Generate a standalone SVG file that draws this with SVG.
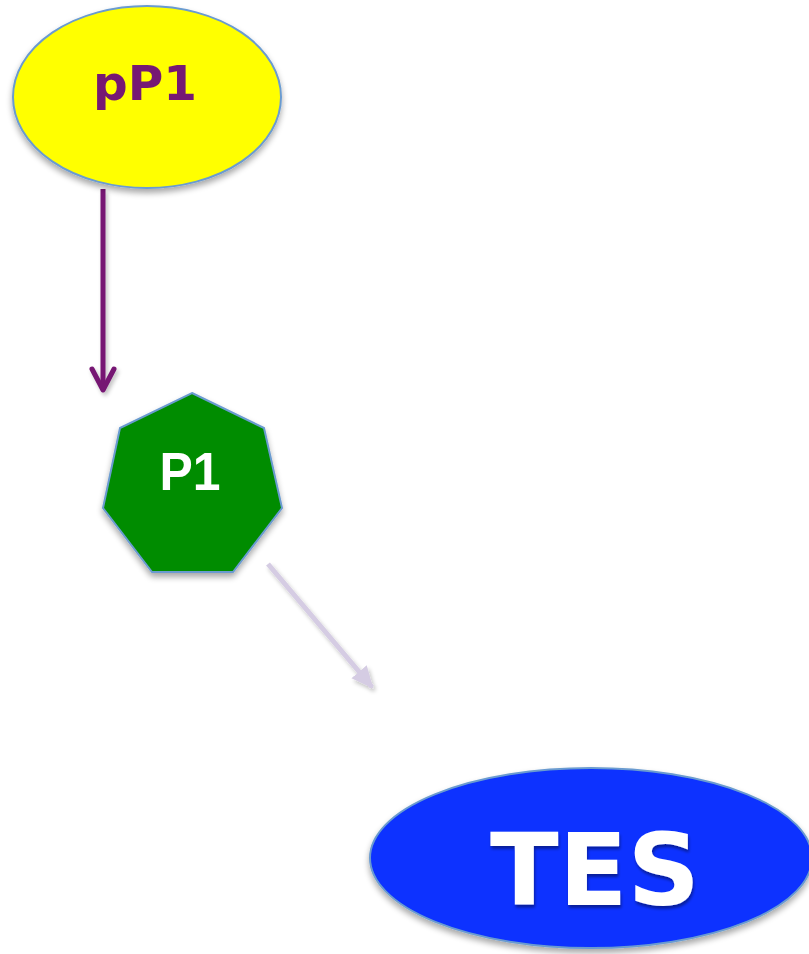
<svg xmlns="http://www.w3.org/2000/svg" width="809" height="954" viewBox="0 0 809 954">
<style>
.lbl{font-family:"DejaVu Sans","Liberation Sans",Arial,sans-serif;font-weight:bold;text-anchor:middle}
.lbl2{font-family:"Liberation Sans",Arial,sans-serif;font-weight:bold;text-anchor:middle}
</style>
<defs>
<filter id="sh" x="-20%" y="-20%" width="140%" height="150%">
<feGaussianBlur in="SourceAlpha" stdDeviation="3"/>
<feOffset dx="0" dy="4" result="b"/>
<feComponentTransfer><feFuncA type="linear" slope="0.35"/></feComponentTransfer>
<feMerge><feMergeNode/><feMergeNode in="SourceGraphic"/></feMerge>
</filter>
<filter id="lsh" filterUnits="userSpaceOnUse" x="0" y="0" width="809" height="954">
<feGaussianBlur in="SourceAlpha" stdDeviation="2"/>
<feOffset dx="2" dy="3"/>
<feComponentTransfer><feFuncA type="linear" slope="0.25"/></feComponentTransfer>
<feMerge><feMergeNode/><feMergeNode in="SourceGraphic"/></feMerge>
</filter>
<filter id="tsh" x="-10%" y="-10%" width="120%" height="130%">
<feGaussianBlur in="SourceAlpha" stdDeviation="1.5"/>
<feOffset dx="1" dy="3"/>
<feComponentTransfer><feFuncA type="linear" slope="0.4"/></feComponentTransfer>
<feMerge><feMergeNode/><feMergeNode in="SourceGraphic"/></feMerge>
</filter>
<marker id="chev" markerWidth="30" markerHeight="30" refX="24" refY="15" viewBox="0 0 30 30" markerUnits="userSpaceOnUse" orient="auto">
<path d="M3,4 L24,15 L3,26" fill="none" stroke="#761873" stroke-width="5" stroke-linecap="round" stroke-linejoin="round"/>
</marker>
<marker id="tri" markerWidth="24" markerHeight="24" refX="20" refY="12" viewBox="0 0 24 24" markerUnits="userSpaceOnUse" orient="auto">
<path d="M0,2 L22,12 L0,22 Z" fill="#D5CCE3"/>
</marker>
</defs>
<g id="connectors" filter="url(#lsh)">
<line x1="103" y1="189" x2="103" y2="390" stroke="#761873" stroke-width="5" marker-end="url(#chev)"/>
<line x1="268" y1="564" x2="372" y2="687" stroke="#D5CCE3" stroke-width="5" marker-end="url(#tri)"/>
</g>
<g id="pP1">
<ellipse cx="147" cy="97" rx="134" ry="91" fill="#FFFF00" stroke="#6A9BD0" stroke-width="2" filter="url(#sh)"/>
<text class="lbl" x="145" y="100" font-size="48" textLength="104" lengthAdjust="spacingAndGlyphs" fill="#761873">pP1</text>
</g>
<g id="P1">
<polygon points="192,393 264,428 282,508 233,572 152,572 103,508 120,428" fill="#008C00" stroke="#6A9BD0" stroke-width="2" filter="url(#sh)"/>
<text class="lbl2" x="190" y="490" font-size="53" textLength="61" lengthAdjust="spacingAndGlyphs" fill="#FFFFFF">P1</text>
</g>
<g id="TES">
<ellipse cx="591" cy="858" rx="221" ry="90" fill="#0A32FF" stroke="#6A9BD0" stroke-width="2" filter="url(#sh)"/>
<text class="lbl" x="595" y="905" font-size="100" textLength="210" lengthAdjust="spacingAndGlyphs" fill="#FFFFFF" filter="url(#tsh)">TES</text>
</g>
</svg>
